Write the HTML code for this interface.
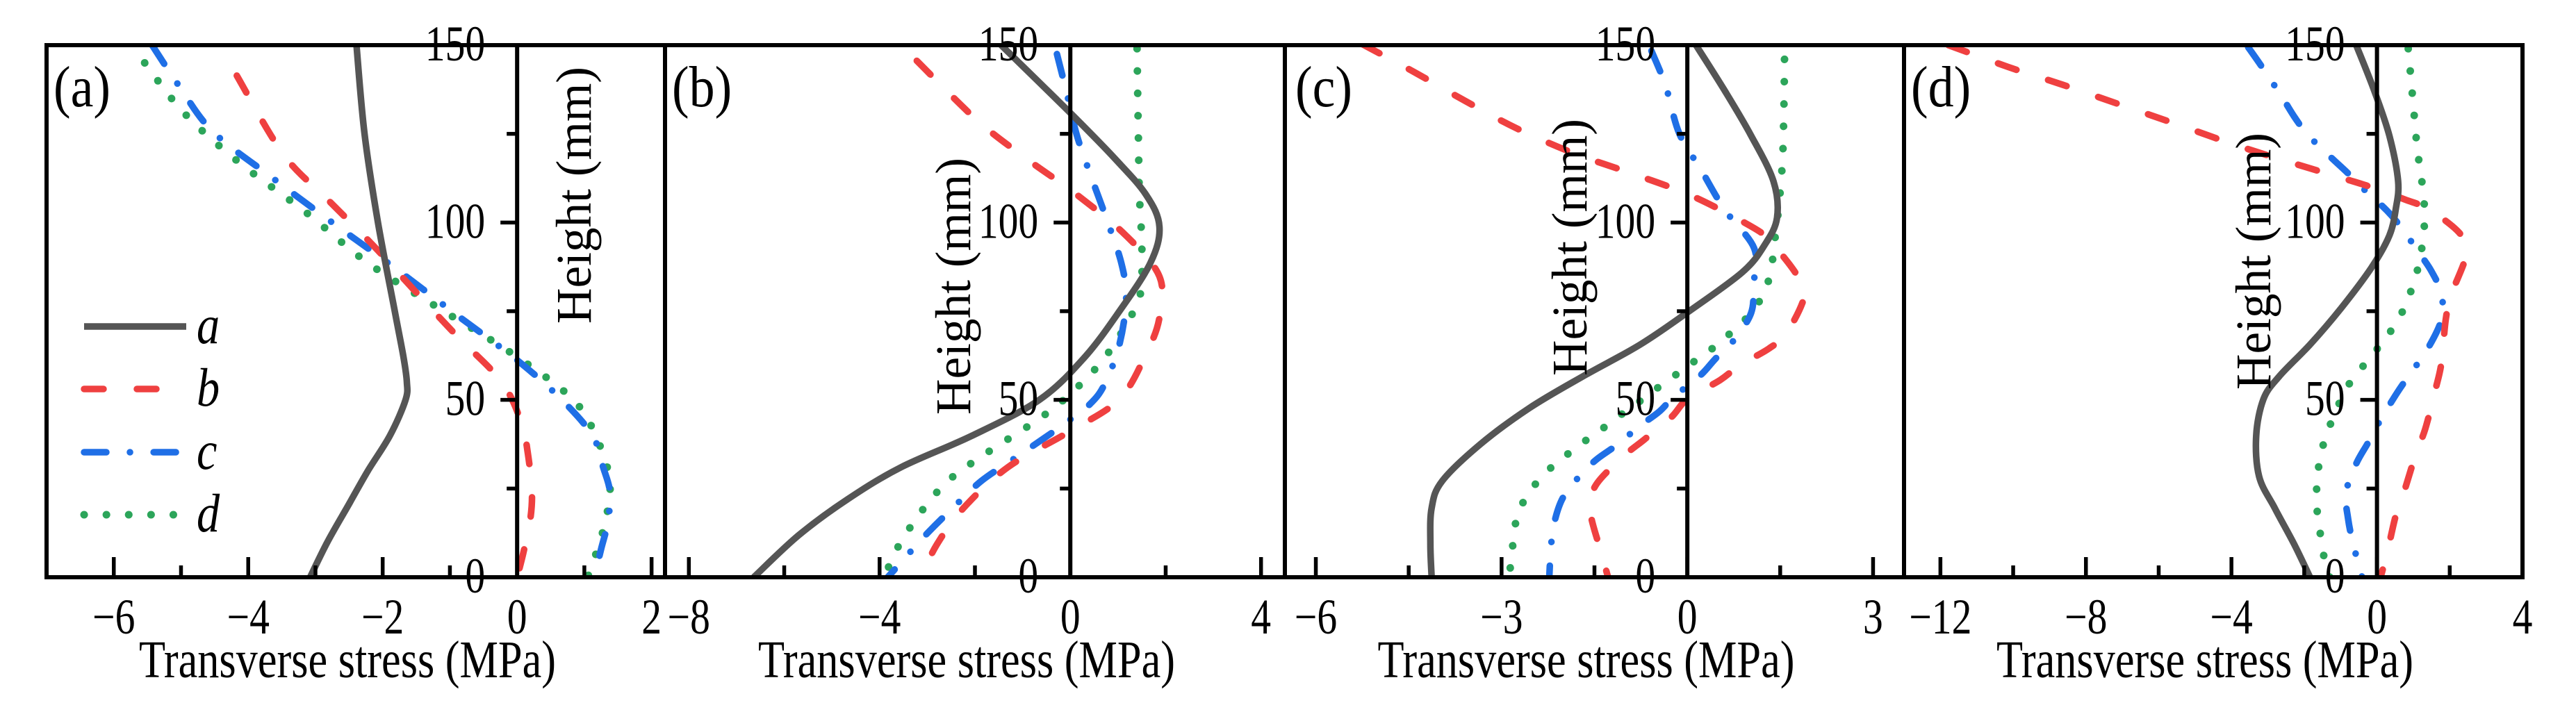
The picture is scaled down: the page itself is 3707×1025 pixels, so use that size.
<!DOCTYPE html>
<html><head><meta charset="utf-8">
<style>
html,body{margin:0;padding:0;background:#fff;}
svg{display:block;}
text{font-family:"Liberation Serif",serif;fill:#000;}
</style></head>
<body>
<svg id="chart" width="3707" height="1025" viewBox="0 0 3707 1025" xmlns="http://www.w3.org/2000/svg"></svg>
<script>
// ---- data (height mm, stress MPa) ----
const pA_h_a=[150,125,100,75,62,55,50,40,30,20,10,0];
const pA_x_a=[-2.39,-2.27,-2.07,-1.82,-1.69,-1.64,-1.66,-1.89,-2.22,-2.52,-2.82,-3.08];
const pA_h_b=[141.4,119.3,106.5,93.7,80.9,68.1,55.3,43.8,34.8,23.9,15.6,6.7,0];
const pA_x_b=[-4.17,-3.48,-2.82,-2.15,-1.53,-0.9,-0.24,0.06,0.16,0.22,0.19,0.09,0];
const pA_h_c=[150,138.5,125.7,113,100,87.2,74.4,61.2,50.3,40,31,24,15.6,8,0];
const pA_x_c=[-5.43,-5.03,-4.53,-3.67,-2.75,-1.82,-0.93,0,0.65,1.12,1.28,1.38,1.35,1.25,1.15];
const pA_h_d=[145,131,117,103,88.6,75.8,63,50.3,39.4,26.5,13.3,0];
const pA_x_d=[-5.54,-4.96,-4.14,-3.15,-2.22,-1.16,-0.07,0.82,1.18,1.38,1.28,1.05];

const pB_h_a=[150,130.9,118.1,107.8,98.8,88.6,75,61.7,50,39.9,31,22,11.8,0];
const pB_x_a=[-1.45,0,0.93,1.59,1.87,1.68,1.03,0.28,-0.65,-2.06,-3.55,-4.67,-5.7,-6.64];
const pB_h_b=[145.6,128.9,118.1,107.8,96.3,84.8,73.2,63,50.2,41.2,31,19.5,9.2,0];
const pB_x_b=[-3.22,-1.96,-0.93,0.14,1.17,1.87,1.87,1.59,1.03,0,-1.31,-2.24,-2.8,-3.13];
const pB_h_c=[147.5,137.3,124.5,111.7,101.4,88.6,78.4,65.6,54.7,48.9,43.1,39.3,33.5,27.1,19.7,11.8,0];
const pB_x_c=[-0.28,-0.09,0.14,0.47,0.75,1.07,1.17,1.03,0.73,0.42,-0.14,-0.54,-1.17,-1.87,-2.45,-3.04,-3.83];
const pB_h_d=[149,121.9,107.8,93.7,80.9,74.5,62.4,52.8,45.1,34.8,27.1,17.5,6.7,0];
const pB_x_d=[1.4,1.43,1.45,1.5,1.48,1.31,0.75,0.09,-0.61,-1.78,-2.57,-3.18,-3.69,-3.88];

const pC_h_a=[150,137.3,124.5,111.7,101.4,93.7,86,75,65.6,56.6,47.6,37.4,27.1,19.5,9.2,0];
const pC_x_a=[0.14,0.6,1.03,1.39,1.45,1.25,0.89,0.03,-0.76,-1.69,-2.56,-3.35,-3.96,-4.13,-4.15,-4.13];
const pC_h_b=[150.3,142.4,134,126.4,119.3,113.8,107.6,99.2,95,86,79.9,69,64.5,59.8,55.6,50.2,45.1,38.9,33.8,25.9,18.8,6.9,0];
const pC_x_b=[-5.25,-4.41,-3.56,-2.74,-1.8,-0.89,0.06,1.0,1.32,1.74,1.9,1.61,1.32,0.85,0.53,0,-0.26,-0.69,-1.05,-1.48,-1.57,-1.39,-1.28];
const pC_h_c=[148.4,138.5,125.1,114.9,103.7,92.7,82.5,74.5,66.8,61.5,56.9,50.8,46.6,42.5,37.4,33.3,29.1,22.7,16,9,0];
const pC_x_c=[-0.58,-0.35,-0.13,0.22,0.6,1.08,1.07,1.03,0.75,0.45,0.21,-0.22,-0.46,-0.78,-1.13,-1.46,-1.71,-2.0,-2.14,-2.2,-2.23];
const pC_h_d=[146,132.1,118.3,111.3,104.6,97.8,91.2,84.1,77.7,72.6,68.4,64.7,60.7,56.9,53,49.2,45.7,41.9,38.3,34.2,30.1,25,20.1,14,6.9,0];
const pC_x_d=[1.57,1.56,1.54,1.51,1.48,1.43,1.39,1.32,1.16,0.93,0.67,0.42,0.1,-0.2,-0.51,-0.8,-1.08,-1.37,-1.66,-1.97,-2.25,-2.51,-2.68,-2.79,-2.83,-2.88];

const pD_h_a=[150,137.3,124.5,111.7,104,96.3,87.3,75.8,65.6,56.6,50.2,39.9,28.4,19.5,9.2,0];
const pD_x_a=[-0.57,-0.08,0.34,0.58,0.52,0.34,-0.15,-0.99,-1.84,-2.69,-3.12,-3.32,-3.24,-2.81,-2.27,-1.84];
const pD_h_b=[150,143.9,138.8,133.2,127.7,121.9,116.8,111.9,109.7,106.5,103.7,96.9,91.2,79.6,72.6,60.4,53,41.9,34.8,24.6,17.5,6.9,0];
const pD_x_b=[-11.78,-10.15,-8.63,-7.05,-5.5,-3.9,-2.33,-0.75,-0.08,0.76,1.43,2.28,2.46,2.04,1.89,1.77,1.61,1.33,1.07,0.76,0.52,0.28,0.1];
const pD_h_c=[149.4,143.7,135.7,129.8,124.7,118.7,114,109.1,103.3,98.2,92.7,86.4,79.9,72.6,64,57.9,52.1,44.4,38,32,23.9,16.3,9.2,0];
const pD_x_c=[-3.54,-3.15,-2.63,-2.27,-1.9,-1.3,-0.81,-0.33,0.28,0.7,1.07,1.49,1.77,1.77,1.37,0.95,0.56,0.1,-0.24,-0.57,-0.85,-0.79,-0.65,-0.41];
const pD_h_d=[149,142.1,135.3,128.3,121.5,114.6,107.8,101,94.1,87.3,80.3,74.5,68.5,63.3,57.6,52.8,47,41,34.8,27.8,20.7,14,6.9,0];
const pD_x_d=[0.86,0.92,0.98,1.04,1.1,1.19,1.28,1.31,1.25,1.13,0.92,0.68,0.32,-0.08,-0.53,-0.87,-1.12,-1.36,-1.54,-1.64,-1.66,-1.58,-1.48,-1.3];

const xTicksA=[-6,-4,-2,0,2], xTicksB=[-8,-4,0,4], xTicksC=[-6,-3,0,3], xTicksD=[-12,-8,-4,0,4];
const yTicks=[0,50,100,150];
const legendLabels=['a','b','c','d'];

const NS='http://www.w3.org/2000/svg';
const svg=document.getElementById('chart');
function el(tag,attrs,parent){const e=document.createElementNS(NS,tag);for(const k in attrs)e.setAttribute(k,attrs[k]);(parent||svg).appendChild(e);return e;}
function htext(x,y,size,anchor,sx,parent,extra){
 const a={x:0,y:0,'font-size':size,'text-anchor':anchor,transform:'translate('+x+','+y+') scale('+sx+',1)'};
 if(extra)for(const k in extra)a[k]=extra[k];
 return el('text',a,parent);
}
const TOP=65,BOT=831;
const styles={
 a:{stroke:'#555555',dash:'none',w:9.5},
 b:{stroke:'#ef4040',dash:'28 48',w:9.5},
 c:{stroke:'#1f6fe6',dash:'32 34 0.1 34',w:9.5},
 d:{stroke:'#2ca55a',dash:'0.1 32',w:11}
};
function fmt(v){return v<0?'\u2212'+Math.abs(v):String(v);}
function smoothPath(pts){
 let d='M'+pts[0][0].toFixed(1)+','+pts[0][1].toFixed(1);
 for(let i=0;i<pts.length-1;i++){
  const p0=pts[Math.max(0,i-1)],p1=pts[i],p2=pts[i+1],p3=pts[Math.min(pts.length-1,i+2)];
  const c1=[p1[0]+(p2[0]-p0[0])/6,p1[1]+(p2[1]-p0[1])/6];
  const c2=[p2[0]-(p3[0]-p1[0])/6,p2[1]-(p3[1]-p1[1])/6];
  d+=' C'+c1[0].toFixed(1)+','+c1[1].toFixed(1)+' '+c2[0].toFixed(1)+','+c2[1].toFixed(1)+' '+p2[0].toFixed(1)+','+p2[1].toFixed(1);
 }
 return d;
}
const panels=[
 {id:'a',x0:67,x1:957,xmin:-7,xmax:2.2,ticks:xTicksA,minor:[-5,-3,-1,1],titleX:850,titleY:281,labX:77,
  series:{a:[pA_h_a,pA_x_a],b:[pA_h_b,pA_x_b],c:[pA_h_c,pA_x_c],d:[pA_h_d,pA_x_d]}},
 {id:'b',x0:957,x1:1849,xmin:-8.5,xmax:4.5,ticks:xTicksB,minor:[-6,-2,2],titleX:1396,titleY:412,labX:967,
  series:{a:[pB_h_a,pB_x_a],b:[pB_h_b,pB_x_b],c:[pB_h_c,pB_x_c],d:[pB_h_d,pB_x_d]}},
 {id:'c',x0:1849,x1:2740,xmin:-6.5,xmax:3.5,ticks:xTicksC,minor:[-4.5,-1.5,1.5],titleX:2283,titleY:356,labX:1864,
  series:{a:[pC_h_a,pC_x_a],b:[pC_h_b,pC_x_b],c:[pC_h_c,pC_x_c],d:[pC_h_d,pC_x_d]}},
 {id:'d',x0:2740,x1:3630,xmin:-13,xmax:4,ticks:xTicksD,minor:[-10,-6,-2,2],titleX:3267,titleY:376,labX:2750,
  series:{a:[pD_h_a,pD_x_a],b:[pD_h_b,pD_x_b],c:[pD_h_c,pD_x_c],d:[pD_h_d,pD_x_d]}}
];
panels.forEach(p=>{
 const xs=v=>p.x0+(v-p.xmin)/(p.xmax-p.xmin)*(p.x1-p.x0);
 const ys=h=>BOT-(h/150)*(BOT-TOP);
 const g=el('g',{});
 
 
 const cp=el('clipPath',{id:'clip'+p.id},g);
 el('rect',{x:p.x0,y:TOP,width:p.x1-p.x0,height:BOT-TOP},cp);
 ['d','c','b','a'].forEach(k=>{
  const [hs,vs]=p.series[k];
  const pts=hs.map((h,i)=>[xs(vs[i]),ys(h)]);
  const path=el('path',{d:smoothPath(pts),fill:'none',stroke:styles[k].stroke,'stroke-width':styles[k].w,'stroke-dasharray':styles[k].dash,'stroke-linecap':k==='a'?'butt':'round','clip-path':'url(#clip'+p.id+')'},g);
  
  
 });
 const fr=el('rect',{x:p.x0,y:TOP,width:p.x1-p.x0,height:BOT-TOP,fill:'none',stroke:'#000','stroke-width':6},g);
 
 
 const ax=xs(0);
 const yl=el('line',{x1:ax,y1:TOP,x2:ax,y2:BOT,stroke:'#000','stroke-width':6},g);
 
 
 for(let h=0;h<=150;h+=25){
  const len=(h%50===0)?24:15;
  const t=el('line',{x1:ax-len,y1:ys(h),x2:ax,y2:ys(h),stroke:'#000','stroke-width':5.5},g);
  
  
 }
 yTicks.forEach(h=>{
  const t=htext(ax-46,ys(h)+22,72,'end',0.8,g);
  t.textContent=String(h);
  
  
 });
 p.ticks.forEach(v=>{
  const t=el('line',{x1:xs(v),y1:BOT,x2:xs(v),y2:BOT-29,stroke:'#000','stroke-width':5.5},g);
  
  
  const l=htext(xs(v),912,72,'middle',0.8,g);
  l.textContent=fmt(v);
  
  
 });
 p.minor.forEach(v=>{
  const t=el('line',{x1:xs(v),y1:BOT,x2:xs(v),y2:BOT-17,stroke:'#000','stroke-width':5.5},g);
  
  
 });
 const xt=el('text',{x:(p.x0+p.x1)/2-12,y:975,'font-size':76,'text-anchor':'middle',textLength:600,lengthAdjust:'spacingAndGlyphs'},g);
 xt.textContent='Transverse stress (MPa)';
 
 
 const ytt=el('text',{x:0,y:0,'font-size':72,'text-anchor':'middle',textLength:370,lengthAdjust:'spacingAndGlyphs',transform:'translate('+p.titleX+','+p.titleY+') rotate(-90)'},g);
 ytt.textContent='Height (mm)';
 
 
 const pl=htext(p.labX,153,84,'start',0.88,g);
 pl.textContent='('+p.id+')';
 
 
});
const lg=el('g',{});


const legY=[470,560,651,741];
legendLabels.forEach((k,i)=>{
 const ln=el('line',{x1:121,y1:legY[i],x2:268,y2:legY[i],stroke:styles[k].stroke,'stroke-width':styles[k].w,'stroke-dasharray':styles[k].dash,'stroke-linecap':k==='a'?'butt':'round'},lg);
 
 
 const tx=htext(283,legY[i]+24,78,'start',0.85,lg,{'font-style':'italic'});
 tx.textContent=k;
 
 
});
</script>
</body></html>
